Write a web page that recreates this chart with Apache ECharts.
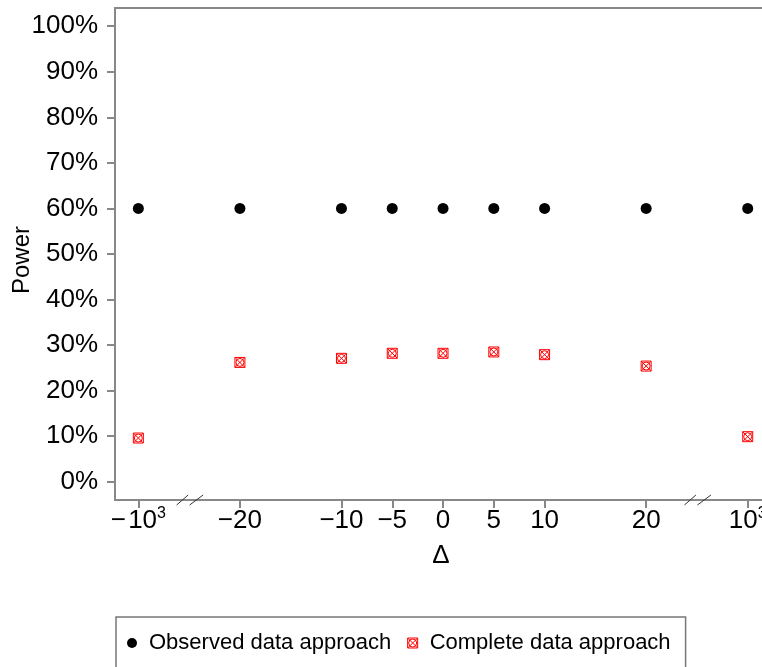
<!DOCTYPE html>
<html>
<head>
<meta charset="utf-8">
<script src="https://cdn.jsdelivr.net/npm/echarts@6/dist/echarts.min.js"></script>
<style>
html,body{margin:0;padding:0;background:#fff;}
#chart{width:762px;height:667px;}
</style>
</head>
<body>
<div id="chart"></div>
<script>
// ---- data ----
const deltaValues = [-1000, -20, -10, -5, 0, 5, 10, 20, 1000];
const observedPower = [0.60, 0.60, 0.60, 0.60, 0.60, 0.60, 0.60, 0.60, 0.60];
const completePower = [0.096, 0.262, 0.271, 0.282, 0.282, 0.285, 0.279, 0.254, 0.099];
const xTickValues = [-1000, -20, -10, -5, 0, 5, 10, 20, 1000];
const yTickValues = [0, 0.1, 0.2, 0.3, 0.4, 0.5, 0.6, 0.7, 0.8, 0.9, 1.0];
const seriesNames = ['Observed data approach', 'Complete data approach'];
const breakPoints = [-1000, 1000];
const yAxisTitle = 'Power';
const xAxisTitle = '\u0394';

// broken axis: |delta| = 1000 drawn at +-30, breaks at +-25
function toAxis(v) { return Math.abs(v) > 100 ? Math.sign(v) * 30 : v; }
function breakPos(v) { return Math.sign(v) * 25; }

const FONT = 'Liberation Sans, Arial, Helvetica, sans-serif';
const AXIS_COLOR = '#888888';
const X_MIN = -32.3, X_MAX = 31.9;
const Y_MIN = -0.04, Y_MAX = 1.04;

const markerPath = 'path://M0,0 L10,0 L10,10 L0,10 Z M0,0 L10,10 M10,0 L0,10 M9,5 A4,4 0 1 1 1,5 A4,4 0 1 1 9,5 Z';

function xLabel(v) {
  const r = Math.round(v);
  if (r === -30) return '{b|\u2212\u200a10}{s|3}';
  if (r === 30) return '{b|10}{s|3}';
  return '{b|' + (r < 0 ? '\u2212' + Math.abs(r) : String(r)) + '}';
}

const chart = echarts.init(document.getElementById('chart'), null, {renderer: 'canvas'});
chart.setOption({
  animation: false,
  backgroundColor: '#ffffff',
  textStyle: {fontFamily: FONT, color: '#000'},
  grid: {left: 115, right: -5, top: 8, bottom: 167, containLabel: false, outerBoundsMode: 'none',
         show: true, borderColor: AXIS_COLOR, borderWidth: 2, backgroundColor: 'transparent'},
  graphic: [{
    type: 'text', x: 22, y: 260, rotation: Math.PI / 2,
    style: {text: yAxisTitle, font: '24px Liberation Sans, Arial, sans-serif', fill: '#000',
            textAlign: 'center', textVerticalAlign: 'middle'}
  }],
  legend: {
    left: 116, top: 617,
    orient: 'horizontal',
    padding: [13, 15, 40, 11],
    borderColor: '#777',
    borderWidth: 1.5,
    itemWidth: 10, itemHeight: 10,
    itemGap: 16,
    textStyle: {fontFamily: FONT, fontSize: 22, color: '#000', lineHeight: 26, padding: [0, 0, 0, 7]},
    data: [
      {name: seriesNames[0], icon: 'circle', itemStyle: {color: '#000'}},
      {name: seriesNames[1], icon: markerPath, itemStyle: {color: 'rgba(0,0,0,0)', borderColor: '#ff0000', borderWidth: 1}}
    ]
  },
  xAxis: {
    type: 'value', min: X_MIN, max: X_MAX,
    name: xAxisTitle, nameLocation: 'middle', nameGap: 38,
    nameTextStyle: {fontFamily: FONT, fontSize: 26, color: '#000'},
    splitLine: {show: false},
    axisLine: {show: true, onZero: false, lineStyle: {color: AXIS_COLOR, width: 2}},
    axisTick: {show: true, length: 8, customValues: xTickValues.map(toAxis), lineStyle: {color: AXIS_COLOR, width: 2}},
    axisLabel: {
      customValues: xTickValues.map(toAxis), margin: 6,
      formatter: xLabel,
      rich: {
        b: {fontFamily: FONT, fontSize: 26, color: '#000', lineHeight: 30},
        s: {fontFamily: FONT, fontSize: 16, color: '#000', verticalAlign: 'top', lineHeight: 16, padding: [0, 0, 16, 0]}
      }
    }
  },
  yAxis: {
    type: 'value', min: Y_MIN, max: Y_MAX,
    splitLine: {show: false},
    axisLine: {show: true, onZero: false, lineStyle: {color: AXIS_COLOR, width: 2}},
    axisTick: {show: true, length: 8, customValues: yTickValues, lineStyle: {color: AXIS_COLOR, width: 2}},
    axisLabel: {
      customValues: yTickValues, margin: 17,
      fontFamily: FONT, fontSize: 26, color: '#000',
      formatter: v => Math.round(v * 100) + '%'
    }
  },
  series: [{
    name: seriesNames[0], type: 'scatter',
    symbol: 'circle', symbolSize: 11,
    itemStyle: {color: '#000', opacity: 1},
    data: deltaValues.map((d, i) => [toAxis(d), observedPower[i]])
  }, {
    name: seriesNames[1], type: 'scatter',
    symbol: markerPath, symbolSize: 10,
    itemStyle: {color: 'rgba(0,0,0,0)', borderColor: '#ff0000', borderWidth: 1, opacity: 1},
    data: deltaValues.map((d, i) => [toAxis(d), completePower[i]])
  }, {
    name: 'breaks', type: 'custom', silent: true, clip: false,
    renderItem: function (params, api) {
      const p = api.coord([api.value(0), Y_MIN]);
      const st = {stroke: '#333', lineWidth: 1};
      return {type: 'group', children: [
        {type: 'line', shape: {x1: p[0] - 12.5, y1: p[1] + 5, x2: p[0] - 1, y2: p[1] - 5}, style: st},
        {type: 'line', shape: {x1: p[0] + 0.5, y1: p[1] + 5, x2: p[0] + 14, y2: p[1] - 5}, style: st}
      ]};
    },
    data: breakPoints.map(b => [breakPos(b), Y_MIN])
  }]
});
</script>
</body>
</html>
